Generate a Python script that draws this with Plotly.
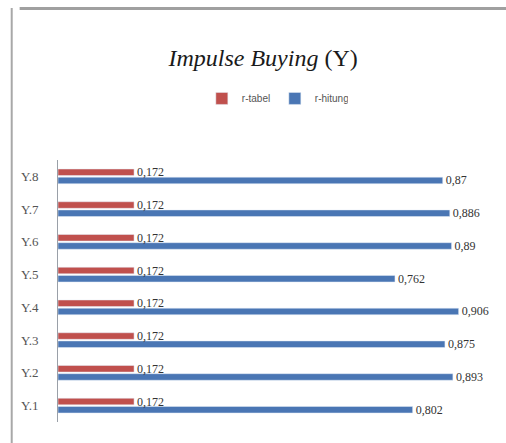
import plotly.graph_objects as go

# Item labels and correlation values (validity test, Impulse Buying)
items = ["Y.1", "Y.2", "Y.3", "Y.4", "Y.5", "Y.6", "Y.7", "Y.8"]
r_tabel = [0.172, 0.172, 0.172, 0.172, 0.172, 0.172, 0.172, 0.172]
r_hitung = [0.802, 0.893, 0.875, 0.906, 0.762, 0.89, 0.886, 0.87]

RED = "#C0504D"
BLUE = "#4A76B4"
SERIF = "Liberation Serif, DejaVu Serif, serif"


def fmt(v):
    s = f"{v:.3f}".rstrip("0").rstrip(".")
    return s.replace(".", ",")


fig = go.Figure()
# r-hitung first so r-tabel sits above it inside each group
fig.add_trace(go.Bar(
    y=items, x=r_hitung, orientation="h", name="r-hitung",
    marker_color=BLUE, legendrank=2,
    text=[fmt(v) for v in r_hitung], textposition="outside",
    textfont=dict(family=SERIF, size=12, color="#333333"),
    cliponaxis=False,
))
fig.add_trace(go.Bar(
    y=items, x=r_tabel, orientation="h", name="r-tabel",
    marker_color=RED, legendrank=1,
    text=[fmt(v) for v in r_tabel], textposition="outside",
    textfont=dict(family=SERIF, size=12, color="#333333"),
    cliponaxis=False,
))

fig.update_layout(
    width=506, height=443,
    margin=dict(l=58, r=31, t=160, b=21),
    paper_bgcolor="white", plot_bgcolor="white",
    barmode="group", bargap=0.5, bargroupgap=0.2,
    uniformtext=dict(minsize=12, mode="show"),
    title=dict(
        text="<i>Impulse Buying</i> (Y)",
        x=0.52, xanchor="center", y=0.87, yanchor="middle",
        font=dict(family=SERIF, size=24, color="#1a1a1a"),
    ),
    legend=dict(
        orientation="h", x=0.52, xanchor="center", y=1.235, yanchor="middle",
        font=dict(family="Liberation Sans Narrow, Liberation Sans, sans-serif",
                  size=10, color="#555555"),
        itemwidth=30, entrywidth=28, traceorder="normal",
    ),
    showlegend=True,
    xaxis=dict(range=[0, 0.943], visible=False, fixedrange=True),
    yaxis=dict(
        showline=True, linecolor="#9aa0a8", linewidth=1,
        ticks="", showgrid=False,
        tickfont=dict(family=SERIF, size=13, color="#555555"),
        ticklabelstandoff=16,
    ),
    shapes=[
        dict(type="line", xref="paper", yref="paper",
             x0=-0.092, x1=1.08, y0=1.578, y1=1.578,
             line=dict(color="#a0a0a0", width=3)),
        dict(type="line", xref="paper", yref="paper",
             x0=-0.111, x1=-0.111, y0=-0.09, y1=1.58,
             line=dict(color="#a8a8a8", width=2)),
    ],
)

fig.write_html("out.html")
